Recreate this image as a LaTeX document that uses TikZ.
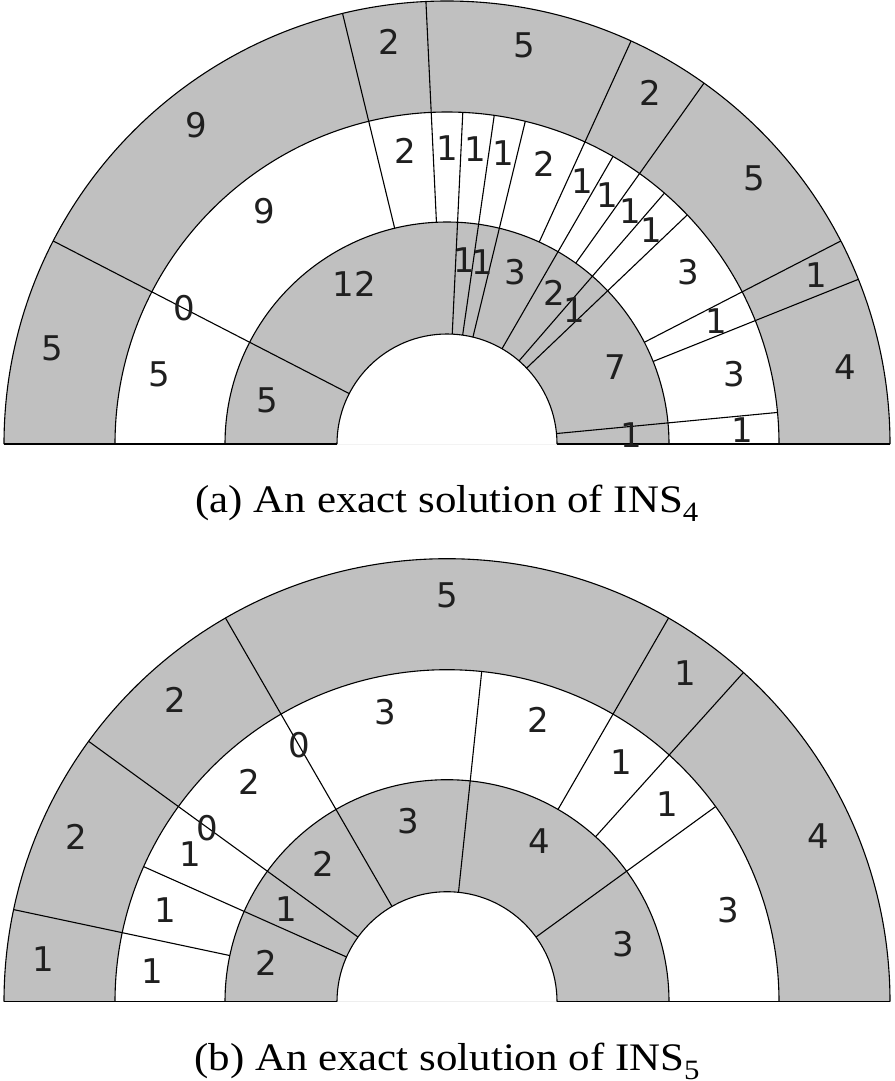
\documentclass[tikz,border=0pt]{standalone}
\usepackage{fontspec}
\setmainfont{Liberation Serif}
\newfontfamily\numfont{DejaVu Sans}
\newfontfamily\capfont[FakeStretch=1.1]{Liberation Serif}
\definecolor{ringgray}{RGB}{192,192,192}
\newcommand\capsub[1]{\raisebox{-9pt}{\fontsize{28}{28}\selectfont #1}}
\tikzset{
  ringline/.style={line width=1.1pt, draw=black},
  seglabel/.style={inner sep=0pt, font=\numfont\fontsize{34}{34}\selectfont, text=black!88},
  captext/.style={inner sep=0pt, anchor=base, font=\capfont\fontsize{39}{45}\selectfont, text=black},
}
\newcommand\ringbase{%
  \fill[ringgray] (443,0) arc[start angle=0,end angle=180,radius=443] -- cycle;
  \fill[white] (332,0) arc[start angle=0,end angle=180,radius=332] -- cycle;
  \fill[ringgray] (222,0) arc[start angle=0,end angle=180,radius=222] -- cycle;
  \fill[white] (110,0) arc[start angle=0,end angle=180,radius=110] -- cycle;
  \foreach \r in {443,332,222,110}
    \draw[ringline] (\r,0) arc[start angle=0,end angle=180,radius=\r];
  \draw[ringline] (-443,0) -- (-110,0) (110,0) -- (443,0);
}
\begin{document}
\begin{tikzpicture}[x=1pt,y=1pt]
\useasboundingbox (0,0) rectangle (894,-1081);
% ---------------- (a) ----------------
\begin{scope}[shift={(447,-444)}]
  \coordinate (ca) at (0,0);
  \ringbase
  \def\u{5.4545454}
  % outer ring boundaries
  \foreach \b in {5,14,16,21,23,28,29}
    \draw[ringline] ({180-\b*\u}:332) -- ({180-\b*\u}:443);
  % middle ring boundaries
  \foreach \b in {5,14,16,17,18,19,21,22,23,24,25,28,29,32}
    \draw[ringline] ({180-\b*\u}:222) -- ({180-\b*\u}:332);
  % inner ring boundaries
  \foreach \b in {5,17,18,19,22,24,25,32}
    \draw[ringline] ({180-\b*\u}:110) -- ({180-\b*\u}:222);
  % labels
  \foreach \m/\t [count=\i] in {2.5/5,9.5/9,15/2,18.5/5,22/2,25.5/5,28.5/1,31/4}
    \node[seglabel] (ao\i) at ({180-\m*\u}:406) {\t};
  \foreach \m/\t [count=\i] in {2.5/5,5/0,9.5/9,15/2,16.5/1,17.5/1,18.5/1,20/2,21.5/1,22.5/1,23.5/1,24.5/1,26.5/3,28.5/1,30.5/3,32.5/1}
    \node[seglabel] (am\i) at ({180-\m*\u}:296) {\t};
  \foreach \m/\t [count=\i] in {2.5/5,11/12,17.5/1,18.5/1,20.5/3,23/2,24.5/1,28.5/7,32.5/1}
    \node[seglabel] (ai\i) at ({180-\m*\u}:185) {\t};
\end{scope}
\node[captext] (capa) at (447,-512.5) {(a) An exact solution of INS\capsub{4}};
% ---------------- (b) ----------------
\begin{scope}[shift={(447,-1001.7)}]
  \coordinate (cb) at (0,0);
  \ringbase
  \def\u{12}
  \foreach \b in {1,3,5,10,11}
    \draw[ringline] ({180-\b*\u}:332) -- ({180-\b*\u}:443);
  \foreach \b in {1,2,3,5,8,10,11,12}
    \draw[ringline] ({180-\b*\u}:222) -- ({180-\b*\u}:332);
  \foreach \b in {2,3,5,8,12}
    \draw[ringline] ({180-\b*\u}:110) -- ({180-\b*\u}:222);
  \foreach \m/\t [count=\i] in {0.5/1,2/2,4/2,7.5/5,10.5/1,13/4}
    \node[seglabel] (bo\i) at ({180-\m*\u}:406) {\t};
  \foreach \m/\t [count=\i] in {0.5/1,1.5/1,2.5/1,3/0,4/2,5/0,6.5/3,9/2,10.5/1,11.5/1,13.5/3}
    \node[seglabel] (bm\i) at ({180-\m*\u}:296) {\t};
  \foreach \m/\t [count=\i] in {1/2,2.5/1,4/2,6.5/3,10/4,13.5/3}
    \node[seglabel] (bi\i) at ({180-\m*\u}:185) {\t};
\end{scope}
\node[captext] (capb) at (447,-1070.5) {(b) An exact solution of INS\capsub{5}};
\end{tikzpicture}
\end{document}
